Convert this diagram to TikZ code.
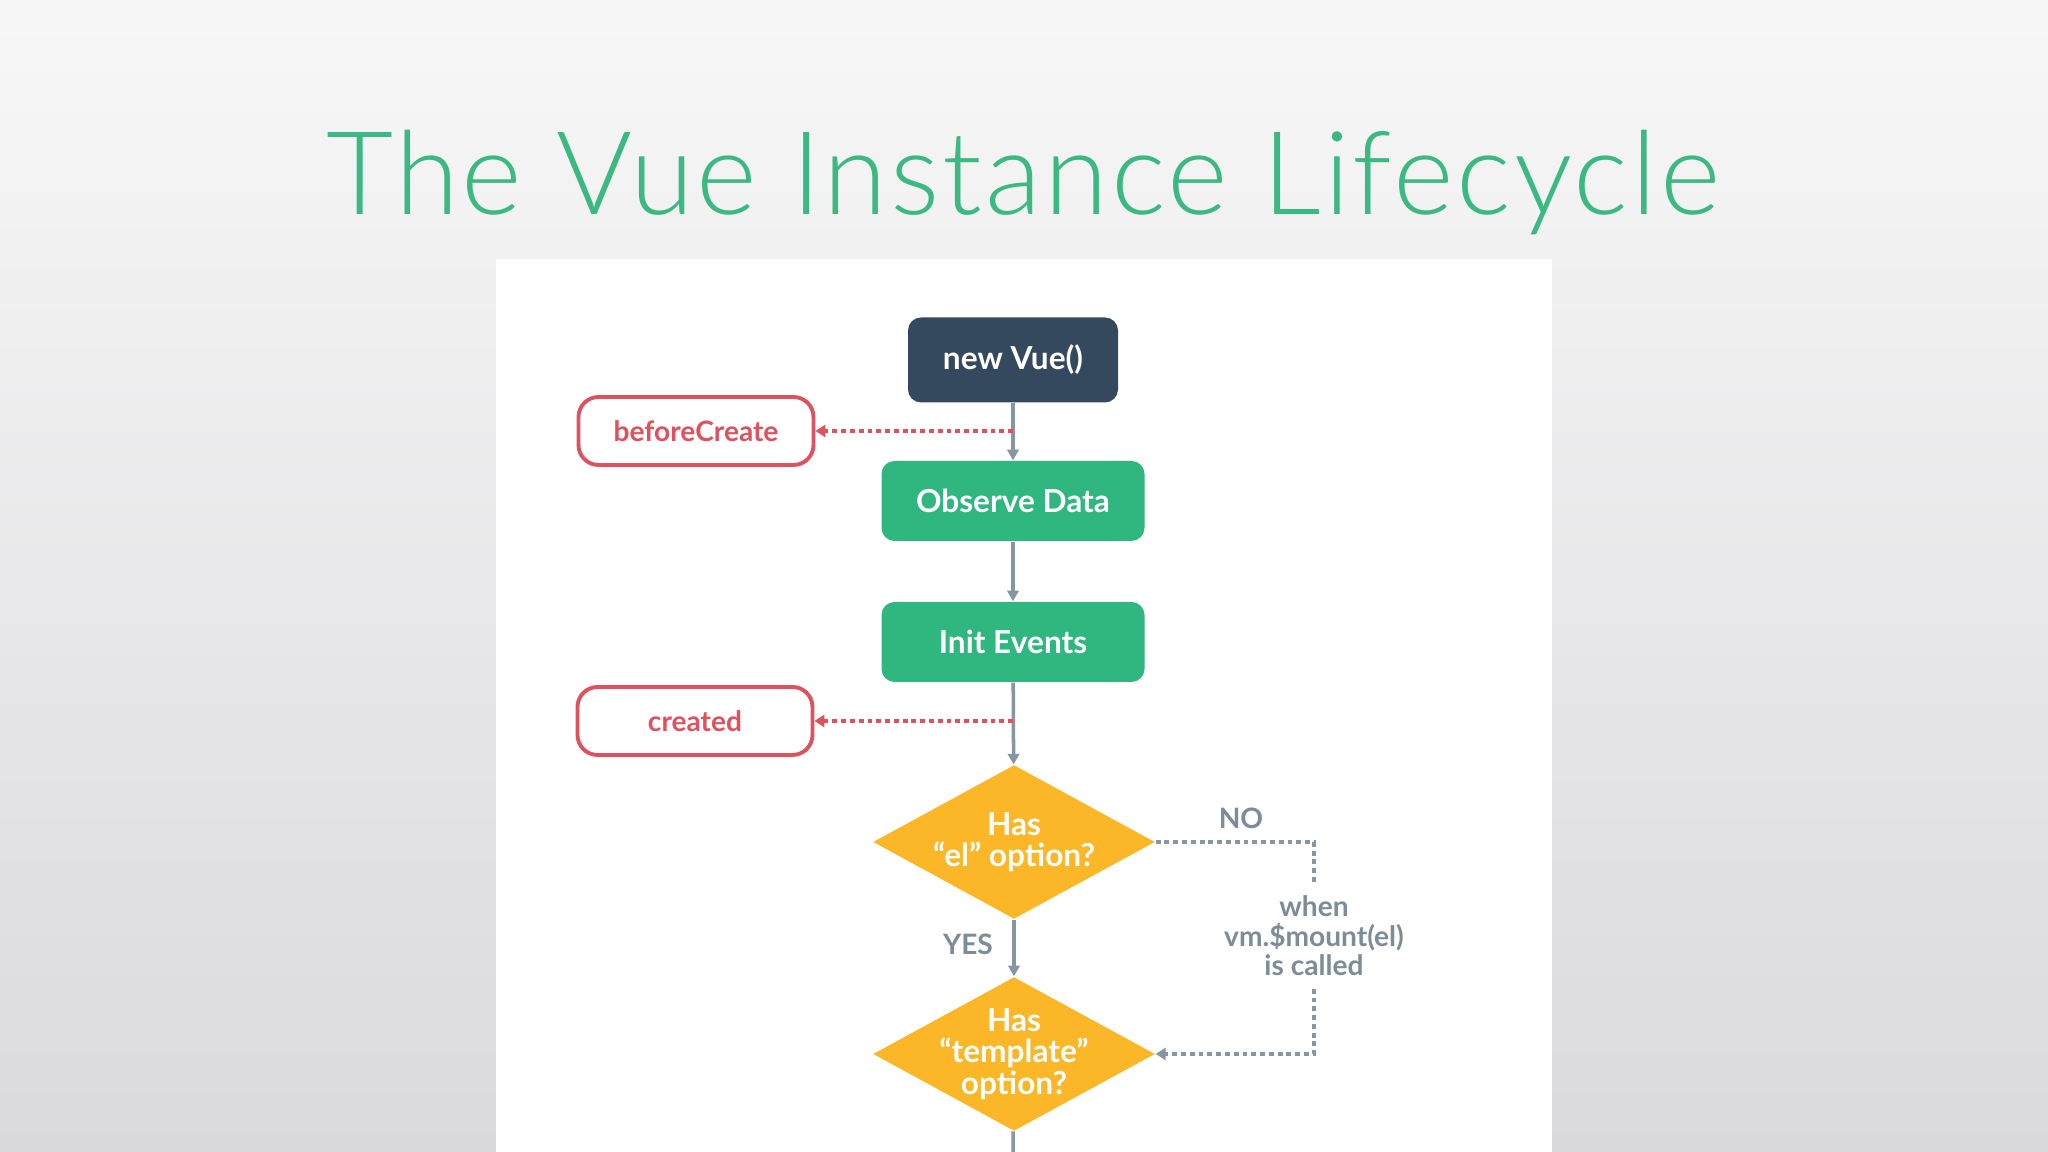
\documentclass[tikz,border=0pt]{standalone}
\usepackage{fontspec}
\setmainfont{Lato}
\newfontfamily\titlefont{Lato Light}[LetterSpace=2.5]
\usetikzlibrary{arrows.meta,shapes.geometric}

\definecolor{vuegreen}{RGB}{48,183,127}
\definecolor{vuenavy}{RGB}{53,73,94}
\definecolor{hookred}{RGB}{221,82,94}
\definecolor{askyellow}{RGB}{251,183,40}
\definecolor{flowgray}{RGB}{134,150,162}
\definecolor{notegray}{RGB}{125,140,152}
\definecolor{titlegreen}{RGB}{60,185,130}

\begin{document}
\begin{tikzpicture}[
    stepbox/.style={rounded corners=0.13cm, minimum width=2.63cm, minimum height=0.80cm,
      inner sep=0pt, fill=vuegreen, text=white, font=\fontsize{9}{9}\selectfont\bfseries},
    hookbox/.style={draw=hookred, line width=1.1pt, rounded corners=0.2cm, fill=white,
      minimum width=2.35cm, minimum height=0.68cm, inner sep=0pt, text=hookred,
      font=\fontsize{8}{8}\selectfont\bfseries},
    ask/.style={diamond, fill=askyellow, aspect=1.83, minimum width=2.82cm, minimum height=1.54cm,
      inner sep=-0.06cm, text=white, align=center, font=\fontsize{9}{8.9}\selectfont\bfseries},
    note/.style={text=notegray, align=center, font=\fontsize{8}{8.4}\selectfont\bfseries},
    flow/.style={draw=flowgray, line width=1pt, -{Triangle[width=3.2pt,length=3pt]}},
    hook/.style={draw=hookred, line width=1.1pt, dash pattern=on 1.4pt off 1.1pt,
      -{Triangle[width=3.4pt,length=2.8pt]}},
    mountline/.style={draw=flowgray, line width=0.9pt, dash pattern=on 1.4pt off 1.1pt}
  ]
  \useasboundingbox (0,0) rectangle (20.48,11.52);
  \shade[top color=white!97!black, bottom color={rgb,255:red,218;green,218;blue,222}]
    (0,0) rectangle (20.48,11.52);
  \fill[white] (4.96,0) rectangle (15.52,8.93);

  % title
  \node[anchor=base, text=titlegreen, font=\fontsize{33}{33}\selectfont\titlefont]
    (title) at (10.23,9.37) {The Vue Instance Lifecycle};

  % main column
  \node[stepbox, fill=vuenavy, minimum width=2.10cm, minimum height=0.85cm] (vue) at (10.13,7.92) {new Vue()};
  \node[stepbox] (observe) at (10.13,6.51) {Observe Data};
  \node[stepbox] (events) at (10.13,5.10) {Init Events};
  \node[ask] (el) at (10.14,3.10) {Has\\“el” option?};
  \node[ask] (template) at (10.14,0.98) {Has\\“template”\\option?};
  \coordinate (bottom) at (10.13,0);

  % hooks
  \node[hookbox] (before) at (6.96,7.21) {beforeCreate};
  \node[hookbox] (created) at (6.95,4.31) {created};
  \coordinate (tapbefore) at (10.13,7.21);
  \coordinate (tapcreated) at (10.13,4.31);

  % labels
  \node[note] (no) at (12.41,3.34) {NO};
  \node[note] (yes) at (9.68,2.08) {YES};
  \node[note, inner sep=0.12cm] (mount) at (13.14,2.16) {when\\vm.\$mount(el)\\is called};

  \draw[flow] (vue) -- (observe);
  \draw[flow] (observe) -- (events);
  \draw[flow] (events) -- (el);
  \draw[flow] (el) -- (template);
  \draw[draw=flowgray, line width=1pt] (template) -- (bottom);

  \draw[hook] (tapbefore) -- (before);
  \draw[hook] (tapcreated) -- (created);

  \draw[mountline] (el.east) -| (mount.north);
  \draw[mountline, -{Triangle[width=3.4pt,length=2.8pt]}] (mount.south) |- (template.east);
\end{tikzpicture}
\end{document}
